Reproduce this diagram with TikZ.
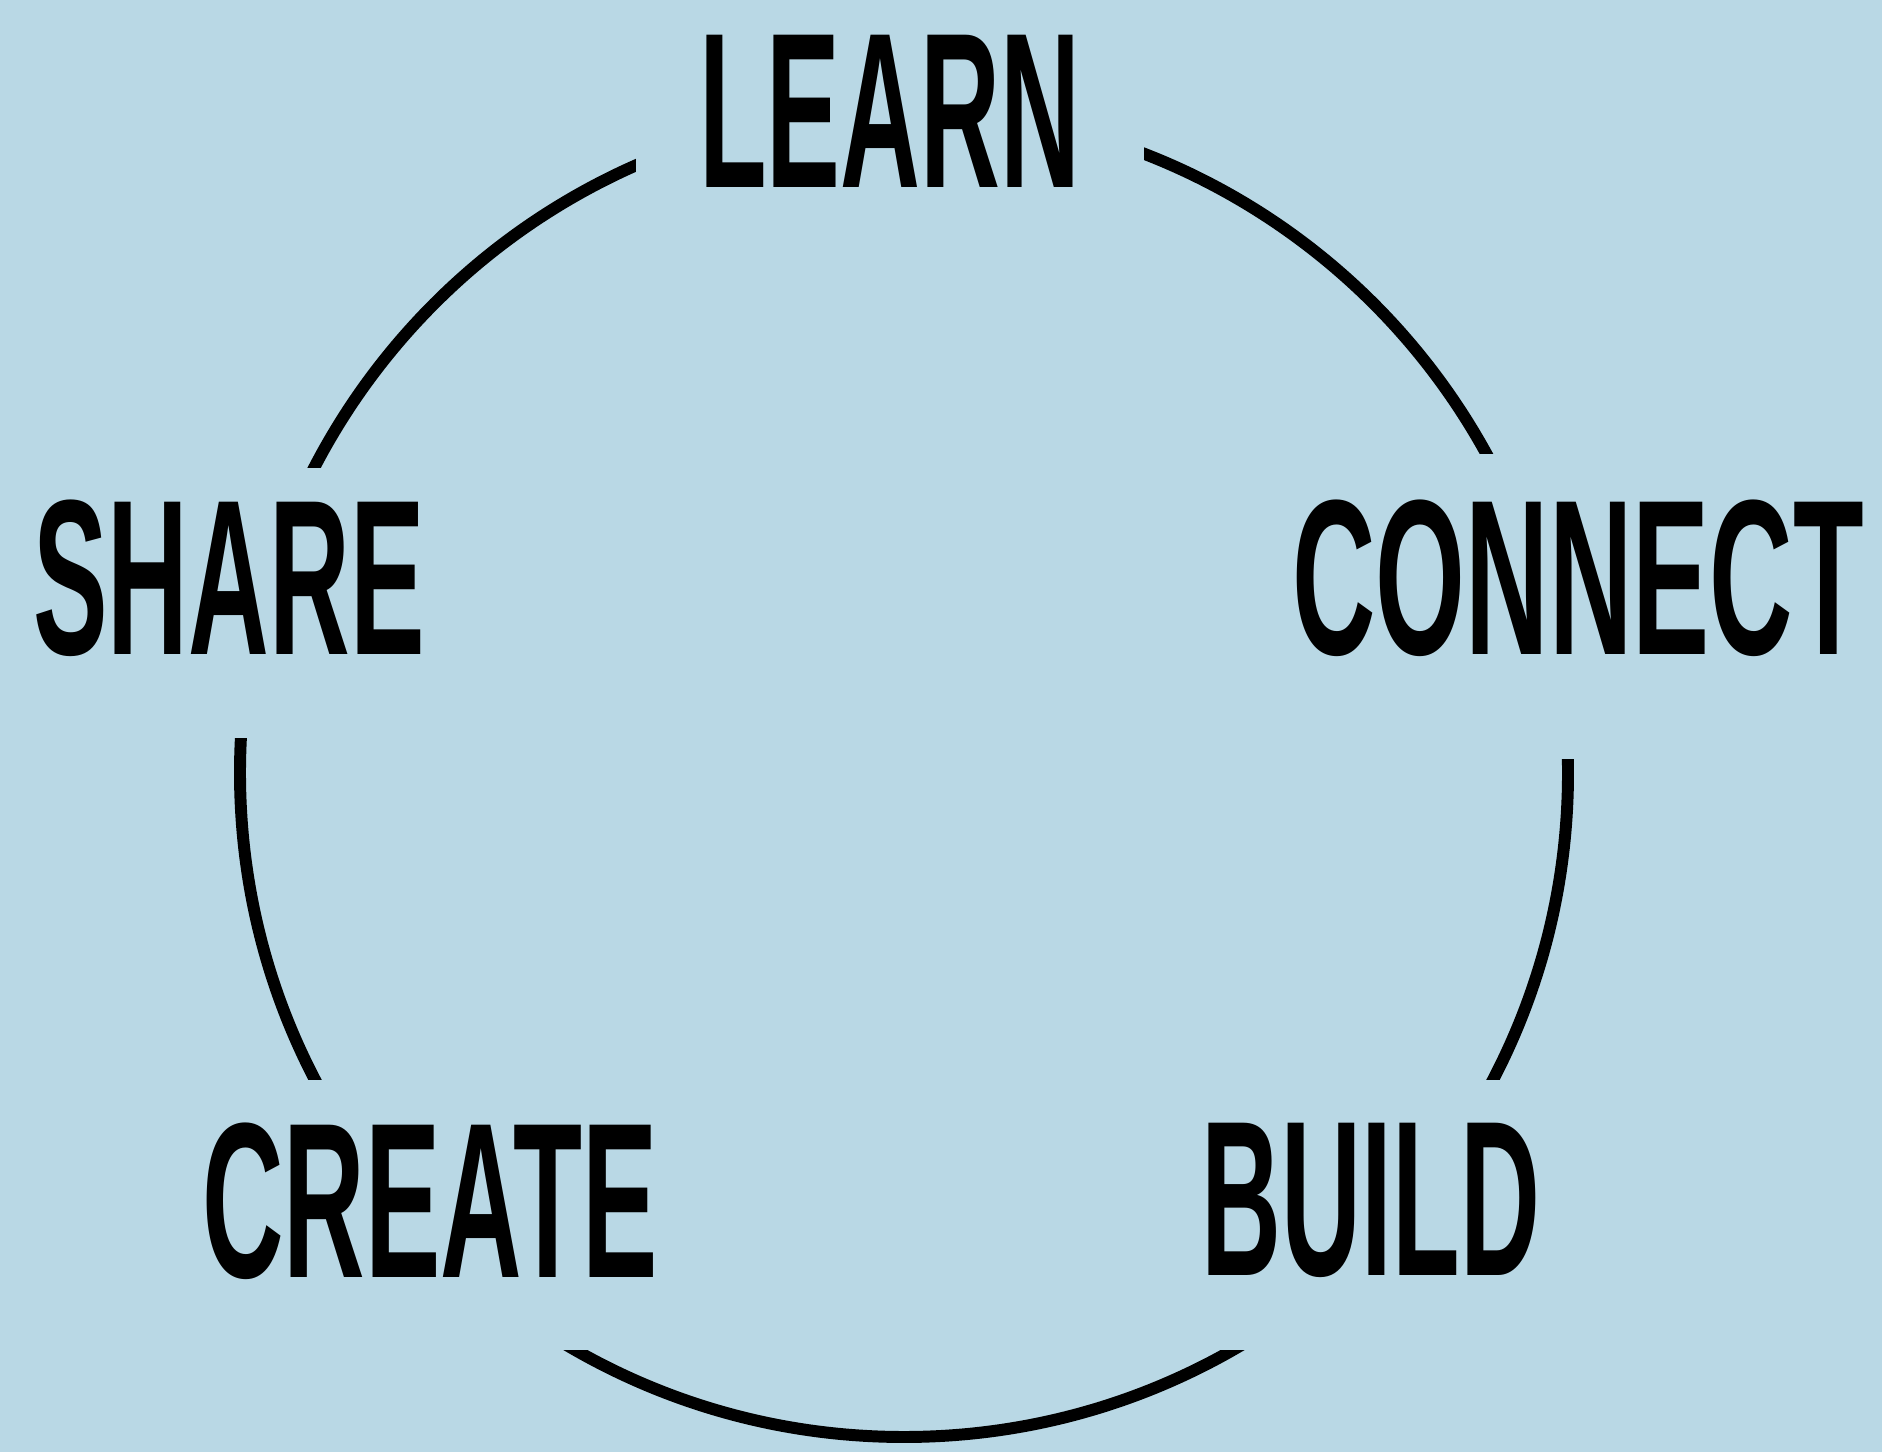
\documentclass[tikz,border=0pt]{standalone}
\usepackage{fontspec}
\usepackage{graphicx}
\setmainfont{Liberation Sans}
\definecolor{sky}{RGB}{185,216,229}
\newcommand{\narrow}[2][0.5]{\scalebox{#1}[1]{#2}}
\tikzset{word/.style={fill=sky, anchor=base, inner sep=0pt, inner xsep=0.3cm,
    font=\bfseries\fontsize{63}{63}\selectfont}}

\begin{document}
\begin{tikzpicture}
\fill[sky] (0,0) rectangle (18.82,14.52);
\useasboundingbox (0,0) rectangle (18.82,14.52);
\coordinate (hub) at (9.04,6.79);
\draw[line width=3.4pt] (hub) circle (6.64cm);
\node[word, inner xsep=0.63cm, text height=1.7cm, text depth=0.3cm] (learn) at (8.9,12.64) {\narrow{LEARN}};
\node[word, text height=1.87cm, text depth=0.83cm] (share) at (2.29,7.97) {\narrow[0.505]{SHARE}};
\node[word, text height=2.01cm, text depth=1.04cm] (connect) at (15.78,7.97) {\narrow[0.522]{CONNECT}};
\node[word, text height=1.98cm, text depth=0.72cm] (create) at (4.3,1.74) {\narrow[0.51]{CREATE}};
\node[word, text height=1.96cm, text depth=0.74cm] (build) at (13.71,1.76) {\narrow{BUILD}};
\end{tikzpicture}
\end{document}
